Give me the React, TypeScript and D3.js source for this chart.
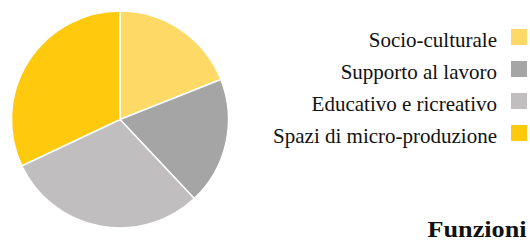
import React, { useEffect, useRef } from 'react';
import * as d3 from 'd3';

const categories = ['Socio-culturale', 'Supporto al lavoro', 'Educativo e ricreativo', 'Spazi di micro-produzione'];
const values = [19, 19, 30, 32];
const colors = ['#FFD966', '#A5A5A5', '#C0BEBE', '#FFC90E'];
const title = 'Funzioni';

type Slice = { label: string; value: number; color: string };

const SERIF = "'Liberation Serif', 'Times New Roman', Times, serif";

const App: React.FC = () => {
  const svgRef = useRef<SVGSVGElement>(null);

  useEffect(() => {
    if (!svgRef.current) return;
    const svg = d3.select(svgRef.current);
    svg.selectAll('*').remove();

    const data: Slice[] = categories.map((c, i) => ({ label: c, value: values[i], color: colors[i] }));

    const cx = 120;
    const cy = 119.5;
    const radius = 108.5;

    const pie = d3.pie<Slice>().sort(null).value(d => d.value);
    const arc = d3.arc<d3.PieArcDatum<Slice>>().innerRadius(0).outerRadius(radius);

    const g = svg.append('g').attr('transform', `translate(${cx},${cy})`);
    g.selectAll('path')
      .data(pie(data))
      .enter()
      .append('path')
      .attr('d', arc)
      .attr('fill', d => d.data.color)
      .attr('stroke', '#ffffff')
      .attr('stroke-width', 1.5)
      .attr('stroke-linejoin', 'round');

    // legend, right aligned with swatches on the right
    const legendY = d3.scaleBand<string>()
      .domain(categories)
      .range([29, 157])
      .paddingInner(0);

    const legend = svg.append('g');
    const rows = legend.selectAll('g')
      .data(data)
      .enter()
      .append('g')
      .attr('transform', d => `translate(0,${legendY(d.label)})`);

    rows.append('rect')
      .attr('x', 511)
      .attr('y', 0)
      .attr('width', 16)
      .attr('height', 16)
      .attr('fill', d => d.color);

    rows.append('text')
      .attr('x', 497)
      .attr('y', 17.5)
      .attr('text-anchor', 'end')
      .style('font-family', SERIF)
      .style('font-size', '21px')
      .attr('fill', '#111')
      .text(d => d.label);

    svg.append('text')
      .attr('x', 526.5)
      .attr('y', 237)
      .attr('text-anchor', 'end')
      .attr('textLength', 99)
      .attr('lengthAdjust', 'spacingAndGlyphs')
      .style('font-family', SERIF)
      .style('font-weight', 'bold')
      .style('font-size', '24px')
      .attr('fill', '#111')
      .text(title);
  }, []);

  return (
    <div style={{ position: 'fixed', left: 0, top: 0, width: 530, height: 240, background: '#fff' }}>
      <svg ref={svgRef} width={530} height={240} />
    </div>
  );
};

export default App;
